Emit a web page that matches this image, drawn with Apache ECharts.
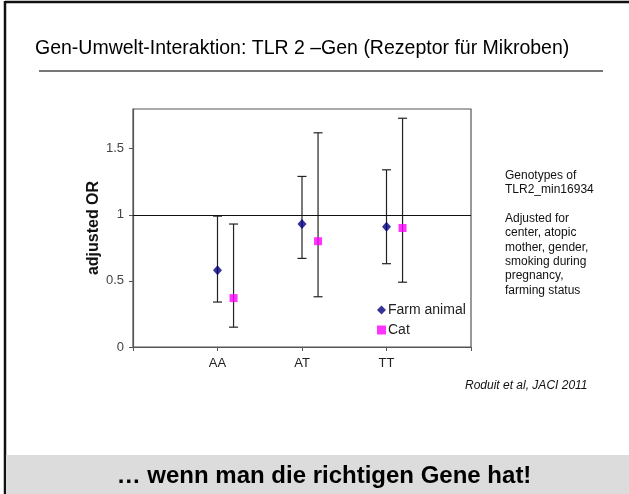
<!DOCTYPE html>
<html>
<head>
<meta charset="utf-8">
<script src="https://cdn.jsdelivr.net/npm/echarts@6/dist/echarts.min.js"></script>
<style>
  html, body { margin: 0; padding: 0; background: #fff; }
  #chart { width: 629px; height: 494px; }
</style>
</head>
<body>
<div id="chart"></div>
<script>
// Genotypen und adjustierte OR (mit 95%-KI)
const categories = ['AA', 'AT', 'TT'];
const farmOR = [0.58, 0.93, 0.91];
const farmLow = [0.34, 0.67, 0.63];
const farmHigh = [0.99, 1.29, 1.34];
const catOR = [0.37, 0.80, 0.90];
const catLow = [0.15, 0.38, 0.49];
const catHigh = [0.93, 1.62, 1.73];
const yTicks = [0, 0.5, 1, 1.5];
const xTicks = [0, 1, 2, 3, 4];

const catShift = 0.19; // Cat leicht nach rechts versetzt

const farmPoints = farmOR.map((v, i) => [i + 1, v]);
const catPoints = catOR.map((v, i) => [i + 1 + catShift, v]);
const farmBars = farmOR.map((v, i) => [i + 1, farmLow[i], farmHigh[i]]);
const catBars = catOR.map((v, i) => [i + 1 + catShift, catLow[i], catHigh[i]]);

function renderErrorBar(params, api) {
  const x = api.value(0);
  const lo = api.coord([x, api.value(1)]);
  const hi = api.coord([x, api.value(2)]);
  const half = 4.5;
  const style = { stroke: '#222', lineWidth: 1.2 };
  return {
    type: 'group',
    children: [
      { type: 'line', shape: { x1: lo[0], y1: lo[1], x2: hi[0], y2: hi[1] }, style },
      { type: 'line', shape: { x1: lo[0] - half, y1: lo[1], x2: lo[0] + half, y2: lo[1] }, style },
      { type: 'line', shape: { x1: hi[0] - half, y1: hi[1], x2: hi[0] + half, y2: hi[1] }, style },
    ],
  };
}

const chart = echarts.init(document.getElementById('chart'));

const noteLines = [
  'Genotypes of', 'TLR2_min16934', '',
  'Adjusted for', 'center, atopic', 'mother, gender,', 'smoking during',
  'pregnancy,', 'farming status',
];

chart.setOption({
  animation: false,
  textStyle: { fontFamily: 'Liberation Sans, Arial, sans-serif' },
  grid: {
    left: 133, top: 109, right: 158, bottom: 147,
    show: true, borderColor: '#555', borderWidth: 1.2,
  },
  xAxis: {
    type: 'value', min: 0, max: 4, interval: 1,
    splitLine: { show: false },
    axisLine: { lineStyle: { color: '#555', width: 1.2 } },
    axisTick: { show: true, length: 4, customValues: xTicks, lineStyle: { color: '#555' } },
    axisLabel: {
      color: '#222', fontSize: 13, margin: 10,
      formatter: (v) => categories[v - 1] || '',
    },
  },
  yAxis: {
    type: 'value', min: 0, max: 1.8, interval: 0.5,
    name: 'adjusted OR', nameLocation: 'middle', nameGap: 31, nameMoveOverlap: false,
    nameTextStyle: { fontSize: 16, fontWeight: 'bold', color: '#111' },
    splitLine: { show: false },
    axisLine: { show: true, lineStyle: { color: '#555', width: 1.2 } },
    axisTick: { show: true, length: 4, customValues: yTicks, lineStyle: { color: '#555' } },
    axisLabel: {
      color: '#444', fontSize: 13, margin: 9, customValues: yTicks,
      formatter: (v) => String(v),
    },
  },
  legend: {
    orient: 'vertical', left: 372, top: 298,
    itemWidth: 9, itemHeight: 9, itemGap: 6,
    textStyle: { fontSize: 14, color: '#222', padding: [0, 0, 0, -3] },
    data: [
      { name: 'Farm animal', icon: 'diamond' },
      { name: 'Cat', icon: 'rect' },
    ],
  },
  series: [
    {
      type: 'custom', name: 'farmCI', renderItem: renderErrorBar,
      data: farmBars, encode: { x: 0, y: [1, 2] }, silent: true, z: 2,
    },
    {
      type: 'custom', name: 'catCI', renderItem: renderErrorBar,
      data: catBars, encode: { x: 0, y: [1, 2] }, silent: true, z: 2,
    },
    {
      type: 'scatter', name: 'Farm animal', data: farmPoints,
      symbol: 'diamond', symbolSize: [9, 10],
      itemStyle: { color: '#000080' }, z: 5,
      markLine: {
        silent: true, symbol: 'none', label: { show: false },
        lineStyle: { color: '#111', width: 1.2, type: 'solid' },
        data: [{ yAxis: 1 }],
      },
    },
    {
      type: 'scatter', name: 'Cat', data: catPoints,
      symbol: 'rect', symbolSize: 8,
      itemStyle: { color: '#ff00ff' }, z: 5,
    },
  ],
  graphic: [
    // Folienrahmen
    { type: 'line', shape: { x1: 5, y1: 2, x2: 629, y2: 2 }, style: { stroke: '#111', lineWidth: 2.5 } },
    { type: 'line', shape: { x1: 5, y1: 1, x2: 5, y2: 494 }, style: { stroke: '#111', lineWidth: 2.5 } },
    {
      type: 'text', left: 35, top: 39,
      style: {
        text: 'Gen-Umwelt-Interaktion: TLR 2 \u2013Gen (Rezeptor für Mikroben)',
        font: '19.5px "Liberation Sans", Arial, sans-serif',
        fill: '#000',
      },
    },
    { type: 'line', shape: { x1: 39, y1: 71, x2: 603, y2: 71 }, style: { stroke: '#777', lineWidth: 2 } },
    {
      type: 'text', left: 505, top: 168,
      style: {
        text: noteLines.join('\n'),
        font: '12px "Liberation Sans", Arial, sans-serif',
        lineHeight: 14.4, fill: '#111',
      },
    },
    {
      type: 'text', left: 465, top: 380,
      style: {
        text: 'Roduit et al, JACI 2011',
        font: 'italic 12px "Liberation Sans", Arial, sans-serif',
        fill: '#111',
      },
    },
    { type: 'rect', shape: { x: 6, y: 455, width: 623, height: 39 }, style: { fill: '#dcdcdc' } },
    {
      type: 'text', x: 324, y: 476,
      style: {
        text: '\u2026 wenn man die richtigen Gene hat!',
        font: 'bold 24px "Liberation Sans", Arial, sans-serif',
        fill: '#000', align: 'center', verticalAlign: 'middle',
      },
    },
  ],
});
</script>
</body>
</html>
